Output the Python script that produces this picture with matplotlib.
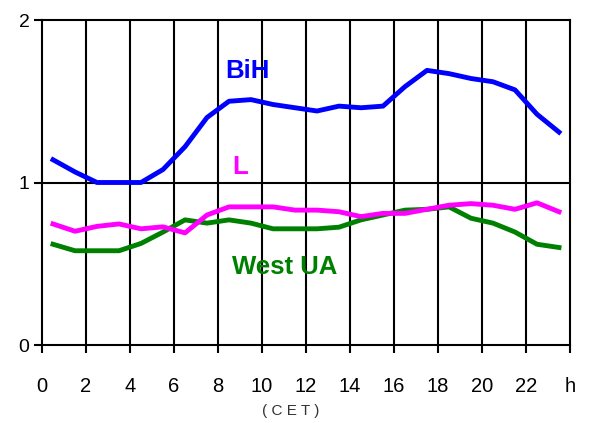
import matplotlib
matplotlib.use("Agg")
import matplotlib.pyplot as plt
import numpy as np

plt.rcParams['font.family'] = ['Liberation Sans', 'DejaVu Sans']

hours = [h + 0.5 for h in range(24)]
bih = [1.14, 1.065, 1.00, 1.00, 1.00, 1.08, 1.22, 1.40, 1.50, 1.51, 1.48, 1.46,
       1.44, 1.47, 1.46, 1.47, 1.59, 1.69, 1.67, 1.64, 1.62, 1.57, 1.42, 1.31]
l_vals = [0.745, 0.70, 0.73, 0.745, 0.715, 0.727, 0.69, 0.80, 0.85, 0.85, 0.85, 0.83,
          0.83, 0.82, 0.79, 0.81, 0.81, 0.835, 0.86, 0.87, 0.86, 0.835, 0.875, 0.82]
west_ua = [0.62, 0.58, 0.58, 0.58, 0.625, 0.695, 0.77, 0.75, 0.77, 0.75, 0.715, 0.715,
           0.715, 0.725, 0.77, 0.80, 0.83, 0.835, 0.85, 0.78, 0.75, 0.695, 0.62, 0.60]
x_ticks = list(range(0, 25, 2))
x_ticklabels = [str(t) for t in range(0, 23, 2)] + ['h']
y_ticks = [0, 1, 2]

fig = plt.figure(figsize=(5.95, 4.23), dpi=100)
ax = fig.add_axes([42/595, 1-345/423, (570-42)/595, (345-20)/423])

for xv in x_ticks[1:-1]:
    ax.axvline(xv, color='black', lw=1.5, zorder=1)
ax.axhline(1, color='black', lw=1.5, zorder=1)

ax.plot(hours, bih, color='#0000FF', lw=3.5, zorder=3)
ax.plot(hours, l_vals, color='#FF00FF', lw=3.5, zorder=3)
ax.plot(hours, west_ua, color='#008000', lw=3.5, zorder=2)

ax.set_xlim(0, 24)
ax.set_ylim(0, 2)
ax.set_xticks(x_ticks)
ax.set_xticklabels(x_ticklabels)
ax.set_yticks(y_ticks)
for s in ax.spines.values():
    s.set_linewidth(1.5)
    s.set_color('black')
ax.tick_params(axis='both', width=1.5, length=6, direction='out', color='black')
ax.tick_params(axis='x', labelsize=14.5, pad=17)
ax.tick_params(axis='y', labelsize=14, pad=3)

ax.text(247/595, 1-71/423, 'BiH', transform=fig.transFigure, color='#0000FF',
        fontsize=18.5, fontweight='bold', ha='center', va='center')
ax.text(240/595, 1-167/423, 'L', transform=fig.transFigure, color='#FF00FF',
        fontsize=18.5, fontweight='bold', ha='center', va='center')
ax.text(285/595, 1-267/423, 'West UA', transform=fig.transFigure, color='#008000',
        fontsize=18.5, fontweight='bold', ha='center', va='center')
fig.text(291/595, 1-411/423, '( C E T )', color='#333333', fontsize=11, ha='center', va='center')

fig.savefig('out.png', dpi=100)
